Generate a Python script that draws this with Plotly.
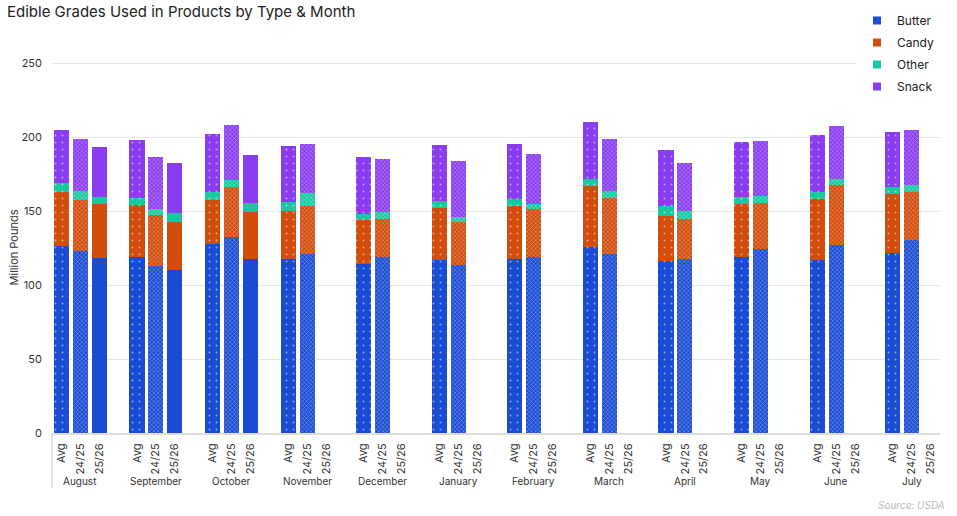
import plotly.graph_objects as go

months = ["August", "September", "October", "November", "December", "January",
          "February", "March", "April", "May", "June", "July"]
periods = ["Avg", "24/25", "25/26"]

butter_avg = [126.4, 118.9, 127.7, 117.6, 114.2, 117.1, 117.8, 125.7, 116.4, 118.9, 117.1, 122.1]
butter_2425 = [123.2, 112.8, 132.9, 120.9, 119.1, 113.7, 119.1, 120.9, 117.6, 124.5, 127.3, 130.4]
butter_2526 = [118.7, 110.1, 118.0]

candy_avg = [36.4, 35.2, 29.7, 32.9, 29.7, 34.9, 35.6, 41.2, 30.2, 35.8, 41.0, 39.6]
candy_2425 = [34.2, 34.9, 33.8, 32.5, 25.7, 28.9, 32.5, 37.9, 27.2, 31.4, 40.3, 32.4]
candy_2526 = [36.0, 32.7, 31.8]

other_avg = [6.3, 5.1, 5.4, 5.6, 4.1, 4.8, 4.9, 4.9, 6.8, 4.8, 4.7, 4.7]
other_2425 = [6.1, 3.9, 4.2, 9.0, 4.5, 3.8, 3.1, 4.7, 5.4, 4.2, 4.5, 5.0]
other_2526 = [4.8, 5.8, 5.6]

snack_avg = [35.6, 38.8, 39.2, 37.8, 38.5, 37.8, 37.0, 38.5, 37.8, 37.1, 38.6, 37.2]
snack_2425 = [35.1, 35.4, 37.2, 32.9, 35.8, 37.4, 33.8, 35.1, 32.2, 37.2, 35.3, 36.9]
snack_2526 = [33.7, 33.8, 32.4]

series = [
    ("Butter", "#1a4bd3", [butter_avg, butter_2425, butter_2526]),
    ("Candy", "#d24c0b", [candy_avg, candy_2425, candy_2526]),
    ("Other", "#18c9a0", [other_avg, other_2425, other_2526]),
    ("Snack", "#8a3cf0", [snack_avg, snack_2425, snack_2526]),
]

SLOTS = len(periods) + 1  # one empty slot between month groups


def pos(g, j):
    return g * SLOTS + j


patterns = [
    dict(shape=".", fgcolor="white", size=7, solidity=0.06),
    dict(shape="x", fgcolor="white", size=3, solidity=0.3),
    dict(shape=""),
]

FONT = "Inter, Noto Sans, sans-serif"
W, H = 957, 516
L, R, T, B = 52, 17, 62, 83
PH = H - T - B

fig = go.Figure()
for name, color, vals in series:
    # legend swatch (small solid square, no data)
    fig.add_trace(go.Scatter(
        name=name, legendgroup=name, x=[None], y=[None], mode="markers",
        marker=dict(symbol="square", size=8, color=color), hoverinfo="skip",
    ))
    for j, v in enumerate(vals):
        fig.add_trace(go.Bar(
            name=name,
            legendgroup=name,
            showlegend=False,
            x=[pos(g, j) for g in range(len(v))],
            y=v,
            width=0.8,
            marker=dict(color=color, line=dict(width=0), pattern=patterns[j]),
            hovertemplate=name + " %{y}<extra></extra>",
        ))

tickvals = [pos(g, j) for g in range(len(months)) for j in range(len(periods))]
ticktext = [p for _ in months for p in periods]

annotations = [
    dict(x=pos(g, 1), y=(433 - 481) / PH, xref="x", yref="paper", text=m, showarrow=False,
         font=dict(family=FONT, size=10, color="#333"), xanchor="center", yanchor="middle")
    for g, m in enumerate(months)
]
annotations.append(dict(x=1 + 7 / (W - L - R), y=(433 - 505) / PH, xref="paper", yref="paper",
                        text="<i>Source: USDA</i>", showarrow=False,
                        font=dict(family=FONT, size=10, color="#bbbbbb"),
                        xanchor="right", yanchor="middle"))

fig.update_layout(
    width=W, height=H,
    barmode="stack",
    plot_bgcolor="white", paper_bgcolor="white",
    margin=dict(l=L, r=R, t=T, b=B, autoexpand=False),
    font=dict(family=FONT, size=11, color="#333"),
    title=dict(text="Edible Grades Used in Products by Type & Month", x=7 / W, xref="container",
               xanchor="left", y=1 - 12 / H, yref="container", yanchor="middle",
               font=dict(family=FONT, size=15, color="#222")),
    legend=dict(x=(857 - L) / (W - L - R), xanchor="left", y=1 + (T - 6) / PH, yanchor="top",
                bgcolor="white", traceorder="grouped", tracegroupgap=3, itemwidth=30,
                font=dict(family=FONT, size=12, color="#222")),
    showlegend=True,
    annotations=annotations,
    shapes=[dict(type="line", xref="paper", yref="paper", x0=0, x1=0, y0=0, y1=-55 / PH,
                 line=dict(color="#dddddd", width=1.5))],
    bargap=0,
)

fig.update_xaxes(range=[-0.5, pos(len(months) - 1, len(periods) - 1) + 0.5],
                 tickmode="array", tickvals=tickvals, ticktext=ticktext, tickangle=-90,
                 showgrid=False, showline=True, linecolor="#dddddd", linewidth=2,
                 ticks="", ticklabelstandoff=4, zeroline=False, automargin=False,
                 tickfont=dict(family=FONT, size=11, color="#333"))
fig.update_yaxes(range=[0, 251], tickvals=[0, 50, 100, 150, 200, 250], showgrid=True,
                 gridcolor="#e6e6e6", gridwidth=1, zeroline=False, showline=False,
                 ticks="", ticklabelstandoff=9, automargin=False,
                 title=dict(text="Million Pounds", font=dict(family=FONT, size=11, color="#333"),
                            standoff=0),
                 tickfont=dict(family=FONT, size=11, color="#333"))

fig.write_html("out.html", config={"displayModeBar": False},
               post_script="document.body.style.margin='0';")
